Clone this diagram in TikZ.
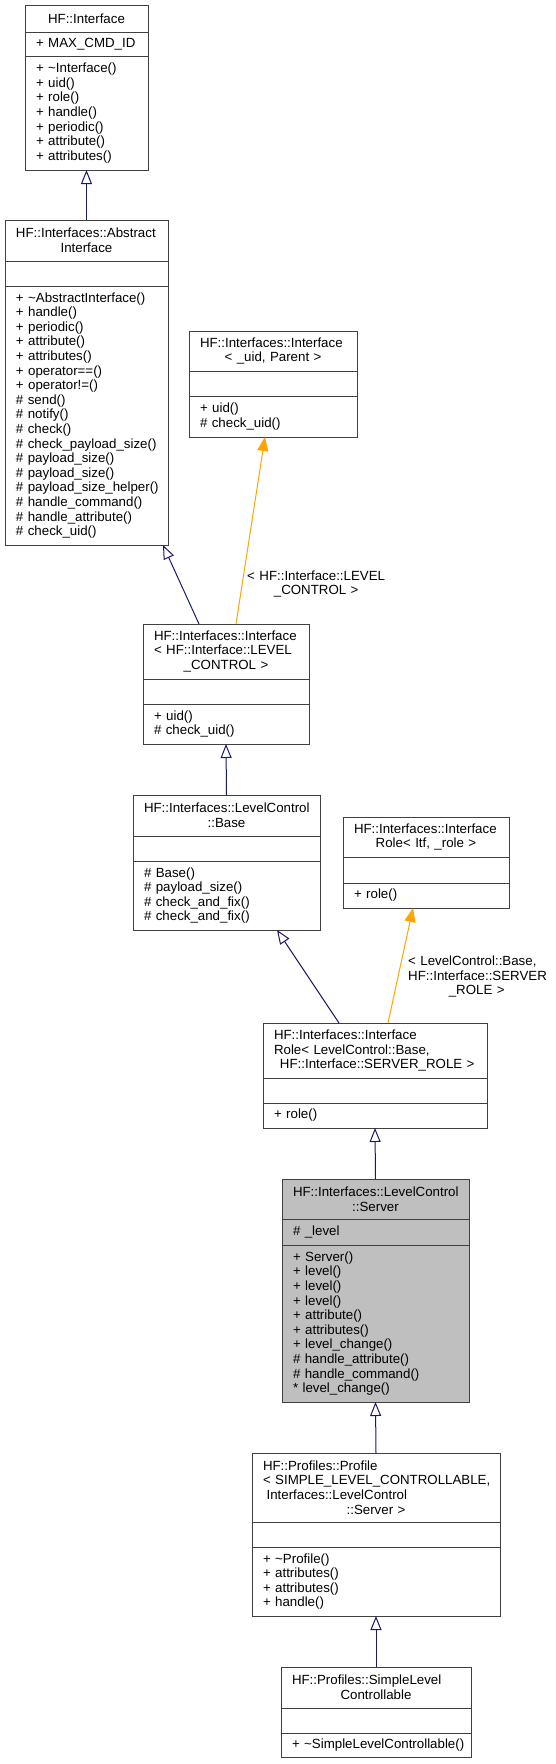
\documentclass[tikz,border=0pt]{standalone}
\usepackage{fontspec}
\setmainfont{Liberation Sans}
\usepackage{tikz}
\usetikzlibrary{arrows.meta,positioning}
\definecolor{dxEdge}{HTML}{191970}
\definecolor{dxTmpl}{HTML}{FFA500}
\definecolor{dxBorder}{HTML}{404040}
\definecolor{dxSelf}{HTML}{BFBFBF}

\newcommand{\umlfont}{\fontsize{13.3}{14.6}\selectfont}
\newcommand{\ctr}[1]{\leavevmode\hbox to\dimexpr\linewidth-2\leftskip\relax{\hss#1\hss}}
\newcommand{\tld}{\textasciitilde}

\tikzset{
    % class compartments
    classpart/.style={draw=dxBorder, line width=1pt, fill=white, anchor=north west, outer sep=0pt,
        inner xsep=0pt, inner ysep=0pt, align=left, font=\umlfont, execute at begin node={\leftskip=11pt}},
    selfpart/.style={classpart, fill=dxSelf},
    % edges
    inherit/.style={-{Triangle[open,length=14pt,width=11pt]}, dxEdge, line width=1pt},
    tmplinst/.style={-{Triangle[length=14pt,width=11pt]}, dxTmpl, line width=1pt},
    tmplarg/.style={anchor=west, inner sep=0pt, align=left, font=\umlfont}
}

\begin{document}
\begin{tikzpicture}[x=1pt, y=-1pt]

    \useasboundingbox (0,0) rectangle (555,1764);

    % HF::Interface
    \node[classpart, text width=123pt, minimum height=27pt] (iface) at (25,5) {\ctr{HF::Interface}};
    \node[classpart, text width=123pt, minimum height=24pt, below right=0pt of iface.south west] (iface-attr) {+ MAX\_CMD\_ID};
    \node[classpart, text width=123pt, minimum height=114pt, below right=0pt of iface-attr.south west] (iface-ops)
        {+ \tld Interface()\\+ uid()\\+ role()\\+ handle()\\+ periodic()\\+ attribute()\\+ attributes()};

    % AbstractInterface
    \node[classpart, text width=163pt, minimum height=41pt] (absiface) at (5,220) {HF::Interfaces::Abstract\\\ctr{Interface}};
    \node[classpart, text width=163pt, minimum height=25pt, below right=0pt of absiface.south west] (absiface-attr) {};
    \node[classpart, text width=163pt, minimum height=259pt, below right=0pt of absiface-attr.south west] (absiface-ops)
        {+ \tld AbstractInterface()\\+ handle()\\+ periodic()\\+ attribute()\\+ attributes()\\+ operator==()\\+ operator!=()\\%
         \# send()\\\# notify()\\\# check()\\\# check\_payload\_size()\\\# payload\_size()\\\# payload\_size()\\%
         \# payload\_size\_helper()\\\# handle\_command()\\\# handle\_attribute()\\\# check\_uid()};

    % Interface< _uid, Parent >
    \node[classpart, text width=168pt, minimum height=40pt] (ifacetpl) at (189,331) {HF::Interfaces::Interface\\\ctr{< \_uid, Parent >}};
    \node[classpart, text width=168pt, minimum height=25pt, below right=0pt of ifacetpl.south west] (ifacetpl-attr) {};
    \node[classpart, text width=168pt, minimum height=41pt, below right=0pt of ifacetpl-attr.south west] (ifacetpl-ops)
        {+ uid()\\\# check\_uid()};

    % Interface< LEVEL_CONTROL >
    \node[classpart, text width=166pt, minimum height=55pt] (ifacelc) at (143,624)
        {HF::Interfaces::Interface\\< HF::Interface::LEVEL\\\ctr{\_CONTROL >}};
    \node[classpart, text width=166pt, minimum height=25pt, below right=0pt of ifacelc.south west] (ifacelc-attr) {};
    \node[classpart, text width=166pt, minimum height=40pt, below right=0pt of ifacelc-attr.south west] (ifacelc-ops)
        {+ uid()\\\# check\_uid()};

    % LevelControl::Base
    \node[classpart, text width=187pt, minimum height=41pt] (lcbase) at (133,795) {HF::Interfaces::LevelControl\\\ctr{::Base}};
    \node[classpart, text width=187pt, minimum height=25pt, below right=0pt of lcbase.south west] (lcbase-attr) {};
    \node[classpart, text width=187pt, minimum height=69pt, below right=0pt of lcbase-attr.south west] (lcbase-ops)
        {\# Base()\\\# payload\_size()\\\# check\_and\_fix()\\\# check\_and\_fix()};

    % InterfaceRole< Itf, _role >
    \node[classpart, text width=166pt, minimum height=40pt] (ifrole) at (343,817) {HF::Interfaces::Interface\\\ctr{Role< Itf, \_role >}};
    \node[classpart, text width=166pt, minimum height=26pt, below right=0pt of ifrole.south west] (ifrole-attr) {};
    \node[classpart, text width=166pt, minimum height=25pt, below right=0pt of ifrole-attr.south west] (ifrole-ops) {+ role()};

    % InterfaceRole< LevelControl::Base, SERVER_ROLE >
    \node[classpart, text width=224pt, minimum height=55pt] (ifrolelc) at (263,1023)
        {HF::Interfaces::Interface\\Role< LevelControl::Base,\\\ctr{\ HF::Interface::SERVER\_ROLE >}};
    \node[classpart, text width=224pt, minimum height=25pt, below right=0pt of ifrolelc.south west] (ifrolelc-attr) {};
    \node[classpart, text width=224pt, minimum height=25pt, below right=0pt of ifrolelc-attr.south west] (ifrolelc-ops) {+ role()};

    % LevelControl::Server
    \node[selfpart, text width=187pt, minimum height=40pt] (lcserver) at (282,1179) {HF::Interfaces::LevelControl\\\ctr{::Server}};
    \node[selfpart, text width=187pt, minimum height=26pt, below right=0pt of lcserver.south west] (lcserver-attr) {\# \_level};
    \node[selfpart, text width=187pt, minimum height=157pt, below right=0pt of lcserver-attr.south west] (lcserver-ops)
        {+ Server()\\+ level()\\+ level()\\+ level()\\+ attribute()\\+ attributes()\\+ level\_change()\\%
         \# handle\_attribute()\\\# handle\_command()\\{*} level\_change()};

    % Profiles::Profile
    \node[classpart, text width=248pt, minimum height=69pt] (profile) at (252,1453)
        {HF::Profiles::Profile\\< SIMPLE\_LEVEL\_CONTROLLABLE,\\\hspace*{3.6pt}Interfaces::LevelControl\\\ctr{::Server >}};
    \node[classpart, text width=248pt, minimum height=25pt, below right=0pt of profile.south west] (profile-attr) {};
    \node[classpart, text width=248pt, minimum height=69pt, below right=0pt of profile-attr.south west] (profile-ops)
        {+ \tld Profile()\\+ attributes()\\+ attributes()\\+ handle()};

    % Profiles::SimpleLevelControllable
    \node[classpart, text width=190pt, minimum height=41pt] (simple) at (281,1667) {HF::Profiles::SimpleLevel\\\ctr{Controllable}};
    \node[classpart, text width=190pt, minimum height=25pt, below right=0pt of simple.south west] (simple-attr) {};
    \node[classpart, text width=190pt, minimum height=24pt, below right=0pt of simple-attr.south west] (simple-ops)
        {+ \tld SimpleLevelControllable()};

    % Template arguments
    \node[tmplarg, text width=138pt] (lvlarg) at (247,584) {< HF::Interface::LEVEL\\\ctr{\_CONTROL >}};
    \node[tmplarg, text width=137pt] (srvarg) at (408,976.5) {< LevelControl::Base,\\HF::Interface::SERVER\\\ctr{\_ROLE >}};

    % Arrows
    \draw[inherit] (absiface.north) -- (iface-ops.south);
    \draw[inherit] ([xshift=56pt]ifacelc.north west) -- ([xshift=-5pt]absiface-ops.south east);
    \draw[tmplinst] ([xshift=93pt]ifacelc.north west) -- ([xshift=76pt]ifacetpl-ops.south west);
    \draw[inherit] (lcbase.north) -- (ifacelc-ops.south);
    \draw[inherit] ([xshift=76pt]ifrolelc.north west) -- ([xshift=-43pt]lcbase-ops.south east);
    \draw[tmplinst] ([xshift=125pt]ifrolelc.north west) -- ([xshift=70pt]ifrole-ops.south west);
    \draw[inherit] (lcserver.north) -- (ifrolelc-ops.south);
    \draw[inherit] (profile.north) -- (lcserver-ops.south);
    \draw[inherit] (simple.north) -- (profile-ops.south);

\end{tikzpicture}
\end{document}
